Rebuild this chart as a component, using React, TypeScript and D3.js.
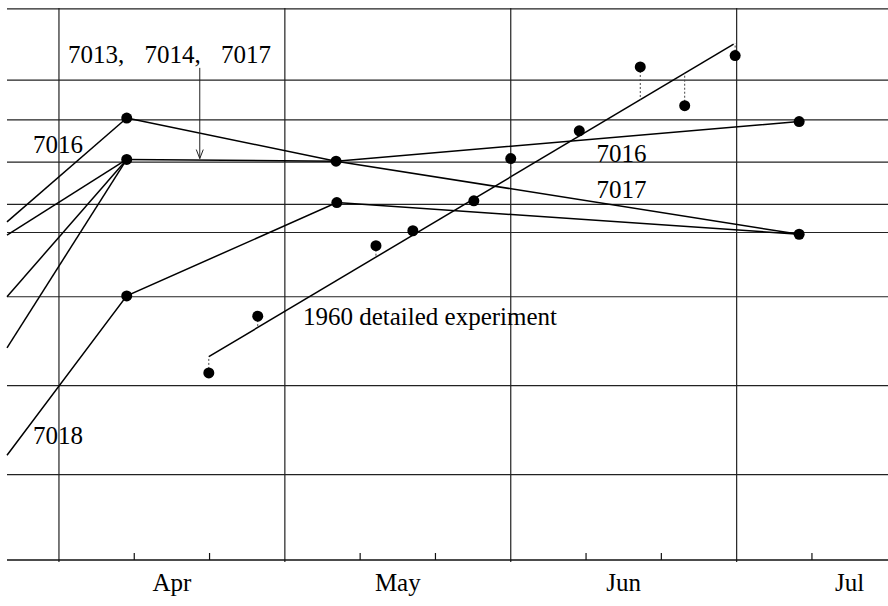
import React from "react";
import * as d3 from "d3";

const W = 888;
const H = 606;

// x: days since 1 April (30-day months), y: arbitrary units
const monthLabels = ["Apr", "May", "Jun", "Jul"];
const monthMid = [15, 45, 75, 105];
const monthBounds = [0, 30, 60, 90];
const dekadTicks = [10, 20, 40, 50, 70, 80, 100];
const gridValues = [0.97, 1.98, 2.99, 3.72, 4.04, 4.52, 5.0, 5.45, 6.26];

const line7016a: [number, number][] = [[-6.9, 3.84], [9, 5.02]];
const line7017: [number, number][] = [[9, 5.02], [36.8, 4.53], [98.3, 3.7]];
const lineC: [number, number][] = [[-6.9, 3.69], [9, 4.55]];
const lineD: [number, number][] = [[-6.9, 2.99], [9, 4.55]];
const lineE: [number, number][] = [[-6.9, 2.41], [9, 4.55]];
const line7016b: [number, number][] = [[9, 4.55], [36.8, 4.53], [98.3, 4.98]];
const line7018: [number, number][] = [[-6.9, 1.19], [9, 3.0], [36.9, 4.06], [98.3, 3.7]];
const stationLines = [line7016a, line7017, lineC, lineD, lineE, line7016b, line7018];

const stationDays = [9, 9, 9, 36.8, 36.9, 98.3, 98.3];
const stationValues = [5.02, 4.55, 3.0, 4.53, 4.06, 4.98, 3.7];

const expDays = [19.9, 26.4, 42.1, 47.0, 55.1, 60.0, 69.1, 77.2, 83.1, 89.8];
const expValues = [2.125, 2.77, 3.57, 3.74, 4.08, 4.56, 4.875, 5.6, 5.16, 5.73];
const fitLine: [number, number][] = [[19.9, 2.31], [89.6, 5.86]];

const labelTexts = ["7013, 7014, 7017", "7016", "7016", "7017", "1960 detailed experiment", "7018"];
const labelDays = [1.2, -3.45, 71.4, 71.4, 32.4, -3.45];
const labelValues = [5.65, 4.625, 4.52, 4.11, 2.67, 1.32];

const arrowDay = 18.7;
const arrowFrom = 5.59;
const arrowTo = 4.56;

export default function App() {
  const x = d3.scaleLinear().domain([-6.9, 110.1]).range([7, 888]);
  const y = d3.scaleLinear().domain([0, 6.27]).range([560, 8]);
  const line = d3
    .line<[number, number]>()
    .x((d) => x(d[0]))
    .y((d) => y(d[1]));
  const fitAt = (d: number) =>
    fitLine[0][1] + ((d - fitLine[0][0]) * (fitLine[1][1] - fitLine[0][1])) / (fitLine[1][0] - fitLine[0][0]);
  const font = "'Liberation Serif', 'Times New Roman', serif";
  const x0 = x.range()[0];
  const x1 = x.range()[1];

  return (
    <svg
      width={W}
      height={H}
      style={{ position: "absolute", left: 0, top: 0, display: "block", background: "#fff" }}
    >
      {/* horizontal grid */}
      {gridValues.map((g, i) => (
        <line key={"h" + i} x1={x0} x2={x1} y1={y(g)} y2={y(g)} stroke="#222" strokeWidth={1.2} />
      ))}
      {/* vertical month grid */}
      {monthBounds.map((m, i) => (
        <line key={"v" + i} x1={x(m)} x2={x(m)} y1={y(6.27)} y2={y(0) + 2} stroke="#222" strokeWidth={1.2} />
      ))}
      {/* x axis */}
      <line x1={x0} x2={x1} y1={y(0)} y2={y(0)} stroke="#111" strokeWidth={1.5} />
      {dekadTicks.map((t, i) => (
        <line key={"t" + i} x1={x(t)} x2={x(t)} y1={y(0)} y2={y(0) - 7} stroke="#111" strokeWidth={1.2} />
      ))}
      {monthLabels.map((m, i) => (
        <text
          key={"m" + i}
          x={x(monthMid[i])}
          y={y(0) + 31}
          textAnchor="middle"
          fontFamily={font}
          fontSize={25}
          fill="#000"
        >
          {m}
        </text>
      ))}
      {/* station lines */}
      {stationLines.map((l, i) => (
        <path key={"l" + i} d={line(l) || ""} fill="none" stroke="#000" strokeWidth={1.5} />
      ))}
      {/* fit line */}
      <path d={line(fitLine) || ""} fill="none" stroke="#000" strokeWidth={1.5} />
      {/* residuals */}
      {expDays.map((d, i) => (
        <line
          key={"r" + i}
          x1={x(d)}
          x2={x(d)}
          y1={y(expValues[i])}
          y2={y(fitAt(d))}
          stroke="#444"
          strokeWidth={1}
          strokeDasharray="2,2"
        />
      ))}
      {/* dots */}
      {stationDays.map((d, i) => (
        <circle key={"s" + i} cx={x(d)} cy={y(stationValues[i])} r={5.5} fill="#000" />
      ))}
      {expDays.map((d, i) => (
        <circle key={"e" + i} cx={x(d)} cy={y(expValues[i])} r={5.5} fill="#000" />
      ))}
      {/* arrow */}
      <line x1={x(arrowDay)} x2={x(arrowDay)} y1={y(arrowFrom)} y2={y(arrowTo)} stroke="#222" strokeWidth={1} />
      <path
        d={`M${x(arrowDay) - 3.5},${y(arrowTo) - 9} L${x(arrowDay)},${y(arrowTo)} L${x(arrowDay) + 3.5},${y(arrowTo) - 9}`}
        fill="none"
        stroke="#222"
        strokeWidth={1}
      />
      {/* labels */}
      {labelTexts.map((t, i) => (
        <text
          key={"lab" + i}
          x={x(labelDays[i])}
          y={y(labelValues[i])}
          fontFamily={font}
          fontSize={25}
          fill="#000"
          wordSpacing={i === 0 ? 14 : 0}
        >
          {t}
        </text>
      ))}
    </svg>
  );
}
